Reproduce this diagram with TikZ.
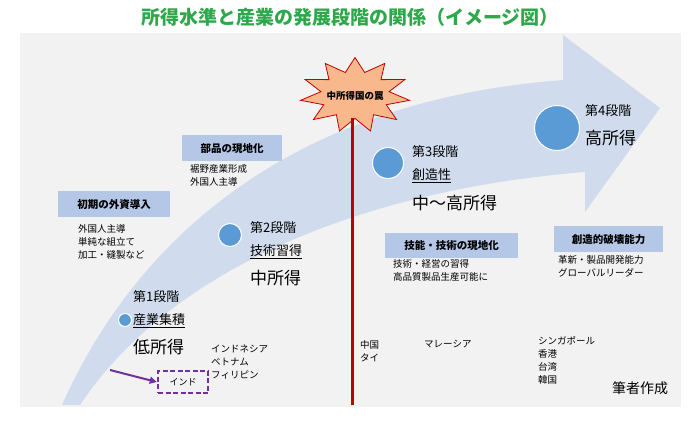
\documentclass[tikz,border=0pt]{standalone}
\usepackage{fontspec}
\setmainfont{Noto Sans CJK JP}
\usetikzlibrary{shapes.geometric,arrows.meta}
\definecolor{bg}{HTML}{F2F2F2}
\definecolor{arr}{HTML}{D0DCEE}
\definecolor{lab}{HTML}{B4C7E7}
\definecolor{dot}{HTML}{5B9BD5}
\definecolor{ttl}{HTML}{2EA84A}
\definecolor{burst}{HTML}{F8B88B}
\definecolor{trap}{HTML}{C00000}
\definecolor{purp}{HTML}{7030A0}
\tikzset{
 labbox/.style={fill=lab,font=\bfseries\fontsize{10.5}{11}\selectfont,inner sep=3pt,anchor=north west},
 small/.style={font=\fontsize{9.5}{13}\selectfont,align=left,anchor=north west,inner sep=0pt},
 stage/.style={font=\fontsize{13}{14}\selectfont,anchor=west,inner sep=0pt},
 big/.style={font=\fontsize{17}{18}\selectfont,anchor=west,inner sep=0pt},
 dotc/.style={circle,fill=dot,draw=white,line width=1pt,inner sep=0pt}
}
\begin{document}
\begin{tikzpicture}[x=1pt,y=-1pt]
\useasboundingbox (0,0) rectangle (700,420);
\fill[bg] (20,33) rectangle (681,407);
\node[font=\bfseries\fontsize{19}{21}\selectfont,text=ttl] (title) at (350,17) {所得水準と産業の発展段階の関係（イメージ図）};
% arrow
\fill[arr] (62,405) .. controls (140,230) and (300,100) .. (563,80) -- (563,35) -- (660,108) -- (585,212) -- (585,172) .. controls (360,190) and (170,270) .. (80,405) -- cycle;
% red line & starburst
\coordinate (lbot) at (352,405);
\node[star,star points=11,star point ratio=1.6,minimum size=100pt,fill=burst,draw=trap,line width=0.8pt,xscale=1.1,yscale=0.75] (star) at (355,95) {};
\draw[trap,line width=3pt] (352,118) -- (lbot);
\node[font=\bfseries\fontsize{9.5}{10}\selectfont] (trapt) at (355,96) {中所得国の罠};
% dots
\node[dotc,minimum size=13pt] (d1) at (125,320) {};
\node[dotc,minimum size=23pt] (d2) at (230,235) {};
\node[dotc,minimum size=31pt] (d3) at (388,163) {};
\node[dotc,minimum size=45pt] (d4) at (557,128) {};
% stage texts
\node[stage] (s1) at (133,297) {第1段階};
\node[stage] (s1b) at (133,321) {\underline{産業集積}};
\node[big] (s1c) at (133,347) {低所得};
\node[stage] (s2) at (250,228) {第2段階};
\node[stage] (s2b) at (250,252) {\underline{技術習得}};
\node[big] (s2c) at (250,278) {中所得};
\node[stage] (s3) at (412,152) {第3段階};
\node[stage] (s3b) at (412,176) {\underline{創造性}};
\node[big] (s3c) at (412,203) {中～高所得};
\node[stage] (s4) at (585,111) {第4段階};
\node[big] (s4b) at (585,138) {高所得};
% label boxes
\node[labbox,minimum width=112pt,minimum height=26pt] (l1) at (58,191) {初期の外資導入};
\node[small] (t1) at (78,224) {外国人主導\\単純な組立て\\加工・縫製など};
\node[labbox,minimum width=100pt,minimum height=26pt] (l2) at (182,135) {部品の現地化};
\node[small] (t2) at (190,164) {裾野産業形成\\外国人主導};
\node[labbox,minimum width=133pt,minimum height=25pt] (l3) at (385,233) {技能・技術の現地化};
\node[small] (t3) at (393,259) {技術・経営の習得\\高品質製品生産可能に};
\node[labbox,minimum width=109pt,minimum height=26pt] (l4) at (554,226) {創造的破壊能力};
\node[small] (t4) at (558,255) {革新・製品開発能力\\グローバルリーダー};
% countries
\node[small] (c1) at (211,345) {インドネシア\\ベトナム\\フィリピン};
\node[draw=purp,line width=2.5pt,dash pattern=on 5pt off 2.5pt,font=\fontsize{9}{10}\selectfont,minimum width=50pt,minimum height=22pt] (india) at (183,382) {インド};
\coordinate (pa) at (110,370);
\draw[purp,line width=2pt,-{Triangle[length=7pt,width=7pt]}] (pa) -- (india.west);
\node[small] (c2) at (360,340) {中国\\タイ};
\node[small] (c3) at (424,340) {マレーシア};
\node[small] (c4) at (538,336) {シンガポール\\香港\\台湾\\韓国};
\node[font=\fontsize{14}{15}\selectfont] (auth) at (640,388) {筆者作成};
\end{tikzpicture}
\end{document}
